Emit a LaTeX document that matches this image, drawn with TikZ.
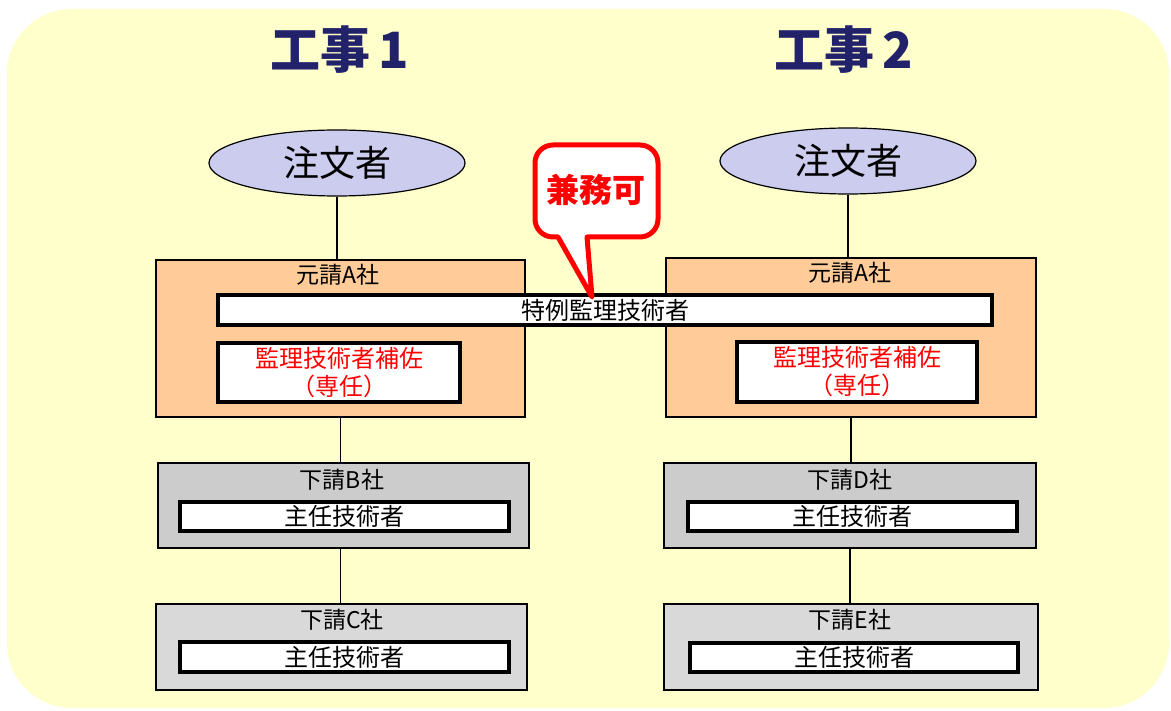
\documentclass[tikz,border=0pt]{standalone}
\usepackage{fontspec}
\setmainfont{Noto Sans CJK JP}
\usetikzlibrary{shapes.geometric}
\definecolor{bgyellow}{HTML}{FFFFCC}
\definecolor{titlenavy}{HTML}{22226B}
\definecolor{ordererfill}{HTML}{CCCCEE}
\definecolor{primefill}{HTML}{FFCC99}
\definecolor{subfill}{HTML}{CCCCCC}
\definecolor{subfilllight}{HTML}{D9D9D9}
\definecolor{kenred}{HTML}{FF0000}
\tikzset{
  title/.style={font=\fontsize{50}{54}\selectfont\bfseries, text=titlenavy},
  orderer/.style={ellipse, draw, line width=1.2pt, fill=ordererfill, minimum width=256pt, minimum height=66pt, font=\fontsize{36}{40}\selectfont},
  primebox/.style={draw, line width=1.5pt, fill=primefill, inner sep=0pt},
  subbox/.style={draw, line width=1.5pt, fill=subfill, inner sep=0pt},
  bar/.style={draw, line width=3.5pt, fill=white, inner sep=0pt, font=\fontsize{24}{26}\selectfont},
  boxlabel/.style={font=\fontsize{23}{26}\selectfont},
  link/.style={line width=1.8pt},
  callout/.style={draw=kenred, line width=5pt, fill=white, line join=round}
}
\begin{document}
\begin{tikzpicture}[x=1pt,y=-1pt]
\useasboundingbox (0,0) rectangle (1171,711);
\fill[white] (0,0) rectangle (1171,711);
\fill[bgyellow, rounded corners=65pt] (7,9) rectangle (1169,708);

\node[title] (ttl1) at (340,50) {工事\,1};
\node[title] (ttl2) at (844,50) {工事\,2};

\node[orderer] (ord1) at (337,163) {注文者};
\node[orderer] (ord2) at (848,161) {注文者};

\node[primebox, minimum width=369pt, minimum height=157pt] (prime1) at (340.5,338.5) {};
\node[primebox, minimum width=370pt, minimum height=159pt] (prime2) at (851,337.5) {};
\node[boxlabel] (prime1lbl) at (338,275) {元請A社};
\node[boxlabel] (prime2lbl) at (850,273) {元請A社};

\node[bar, minimum width=774pt, minimum height=30pt] (tokurei) at (605,310) {特例監理技術者};
\node[bar, minimum width=242pt, minimum height=59pt, text=kenred, align=center, font=\fontsize{24}{28}\selectfont] (hosa1) at (339,372.5) {監理技術者補佐\\（専任）};
\node[bar, minimum width=240pt, minimum height=60pt, text=kenred, align=center, font=\fontsize{24}{28}\selectfont] (hosa2) at (857,372) {監理技術者補佐\\（専任）};

\node[subbox, minimum width=371pt, minimum height=85pt] (subB) at (343.5,505.5) {};
\node[subbox, fill=subfilllight, minimum width=371pt, minimum height=86pt] (subC) at (341.5,647) {};
\node[subbox, minimum width=372pt, minimum height=85pt] (subD) at (850,505.5) {};
\node[subbox, fill=subfilllight, minimum width=374pt, minimum height=86pt] (subE) at (851,647) {};
\node[boxlabel] (subBlbl) at (342,480) {下請B社};
\node[boxlabel] (subClbl) at (342,620) {下請C社};
\node[boxlabel] (subDlbl) at (850,480) {下請D社};
\node[boxlabel] (subElbl) at (850,620) {下請E社};

\node[bar, minimum width=329pt, minimum height=29pt] (shunin1) at (344.5,516.5) {主任技術者};
\node[bar, minimum width=329pt, minimum height=30pt] (shunin2) at (344.5,657) {主任技術者};
\node[bar, minimum width=329pt, minimum height=29pt] (shunin3) at (852.5,516.5) {主任技術者};
\node[bar, minimum width=328pt, minimum height=29pt] (shunin4) at (854,657.5) {主任技術者};

\draw[link] (ord1.south) -- (ord1.south |- prime1.north);
\draw[link] (ord2.south) -- (ord2.south |- prime2.north);
\draw[link] (prime1.south) -- (prime1.south |- subB.north);
\draw[link] (prime2.south) -- (prime2.south |- subD.north);
\draw[link] (subB.south -| prime1.south) -- (subC.north -| prime1.south);
\draw[link] (subD.south) -- (subD.south |- subE.north);

\draw[callout] (587,237) [rounded corners=18pt] -- (658,237) -- (658,145) -- (535,145) -- (535,237) [sharp corners] -- (558,237) -- (592,297) -- cycle;
\node[font=\fontsize{33}{36}\selectfont\bfseries, text=kenred] (kenmu) at (596,190) {兼務可};
\end{tikzpicture}
\end{document}
